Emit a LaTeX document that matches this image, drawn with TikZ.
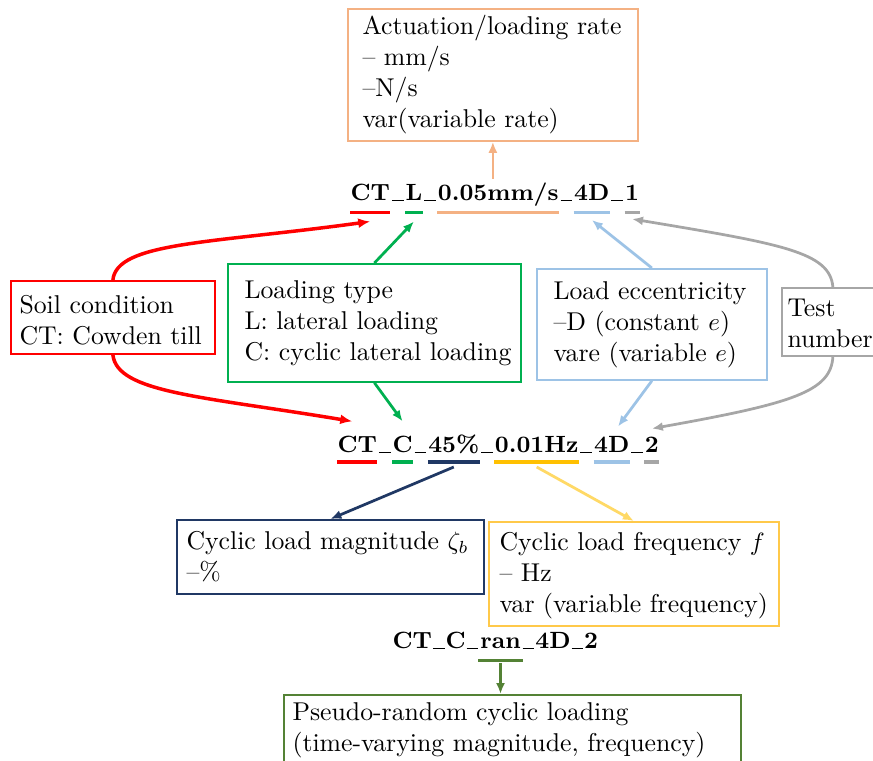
\documentclass[tikz,border=0pt]{standalone}
\usetikzlibrary{arrows.meta}
\definecolor{cRed}{HTML}{FF0000}
\definecolor{cGreen}{HTML}{00B050}
\definecolor{cOrange}{HTML}{F4B183}
\definecolor{cBlue}{HTML}{9DC3E6}
\definecolor{cGray}{HTML}{A6A6A6}
\definecolor{cNavy}{HTML}{203864}
\definecolor{cGold}{HTML}{FFC000}
\definecolor{cGoldBox}{HTML}{FFC94A}
\definecolor{cGoldArr}{HTML}{FFD966}
\definecolor{cDkGreen}{HTML}{548235}
% short low underscore, as in classic TeX text fonts
\newcommand{\lowbar}{\kern0.04em\rule[-0.35pt]{0.5em}{0.55pt}\kern0.04em}
\begin{document}
\begin{tikzpicture}[x=0.4pt,y=-0.4pt,
  font=\fontsize{10.3pt}{12.4pt}\selectfont,
  frame/.style={draw, rectangle, inner sep=0, line width=0.7pt, anchor=north west},
  txt/.style={align=left, inner sep=0, anchor=west},
  piece/.style={inner sep=0, anchor=base west, font=\fontsize{9.4pt}{12pt}\selectfont\bfseries},
  ul/.style={line width=1.5pt},
  arr/.style={line width=1.1pt, -{Latex[length=4.4pt,width=3.6pt]}},
  thickarr/.style={line width=1.4pt, -{Latex[length=4.8pt,width=4pt]}}]
\useasboundingbox (0,0) rectangle (873,760);
\clip (0,0) rectangle (873,760);

% ---- description boxes ----
\node[frame, draw=cOrange, minimum width=116pt, minimum height=52.8pt] (act) at (347,8) {};
\node[txt] (actT) at ([xshift=6pt]act.west) {Actuation/loading rate\\-- mm/s\\--N/s\\var(variable rate)};

\node[frame, draw=cRed, minimum width=81.6pt, minimum height=29.2pt] (soil) at (10,280) {};
\node[txt] (soilT) at ([xshift=3.6pt,yshift=-1pt]soil.west) {Soil condition\\CT: Cowden till};

\node[frame, draw=cGreen, minimum width=117.2pt, minimum height=47.2pt] (load) at (227,263) {};
\node[txt] (loadT) at ([xshift=6.8pt]load.west) {Loading type\\L: lateral loading\\C: cyclic lateral loading};

\node[frame, draw=cBlue, minimum width=92pt, minimum height=44.4pt] (ecc) at (536,268) {};
\node[txt] (eccT) at ([xshift=6.8pt]ecc.west) {Load eccentricity\\--D (constant $e$)\\vare (variable $e$)};

\node[frame, draw=cGray, minimum width=40.8pt, minimum height=27.2pt] (test) at (781,287) {};
\node[txt] (testT) at ([xshift=2.4pt,yshift=-0.8pt]test.west) {Test\\number};

\node[frame, draw=cNavy, minimum width=122.8pt, minimum height=29.6pt] (mag) at (176,519) {};
\node[txt] (magT) at ([xshift=4pt]mag.west) {Cyclic load magnitude $\zeta_b$\\--\%};

\node[frame, draw=cGoldBox, minimum width=116pt, minimum height=41.6pt] (freq) at (488,521) {};
\node[txt] (freqT) at ([xshift=4.4pt,yshift=-0.8pt]freq.west) {Cyclic load frequency $f$\\-- Hz\\var (variable frequency)};

\node[frame, draw=cDkGreen, minimum width=182.8pt, minimum height=28pt] (rand) at (283,694) {};
\node[txt] (randT) at ([xshift=3.6pt]rand.west) {Pseudo-random cyclic loading\\(time-varying magnitude, frequency)};

% ---- test code CT_L_0.05mm/s_4D_1 ----
\node[piece] (t1) at (350,200) {CT};
\node[piece] (t2) at (t1.base east) {\lowbar};
\node[piece] (t3) at (t2.base east) {L};
\node[piece] (t4) at (t3.base east) {\lowbar};
\node[piece] (t5) at (t4.base east) {0.05mm/s};
\node[piece] (t6) at (t5.base east) {\lowbar};
\node[piece] (t7) at (t6.base east) {4D};
\node[piece] (t8) at (t7.base east) {\lowbar};
\node[piece] (t9) at (t8.base east) {1};
\draw[ul, cRed]    ([yshift=-5pt]t1.base west) -- ([yshift=-5pt]t1.base east);
\draw[ul, cGreen]  ([yshift=-5pt]t3.base west) -- ([yshift=-5pt]t3.base east);
\draw[ul, cOrange] ([yshift=-5pt]t5.base west) -- ([yshift=-5pt]t5.base east);
\draw[ul, cBlue]   ([yshift=-5pt]t7.base west) -- ([yshift=-5pt]t7.base east);
\draw[ul, cGray]   ([yshift=-5pt]t9.base west) -- ([yshift=-5pt]t9.base east);
\coordinate (t1in) at ([yshift=-8.6pt]t1.base);
\coordinate (t3in) at ([yshift=-8.6pt]t3.base);
\coordinate (t7in) at ([yshift=-8pt]t7.base);
\coordinate (t9in) at ([yshift=-7.6pt]t9.base);

% ---- test code CT_C_45%_0.01Hz_4D_2 ----
\node[piece] (m1) at (337,452) {CT};
\node[piece] (m2) at (m1.base east) {\lowbar};
\node[piece] (m3) at (m2.base east) {C};
\node[piece] (m4) at (m3.base east) {\lowbar};
\node[piece] (m5) at (m4.base east) {45\%};
\node[piece] (m6) at (m5.base east) {\lowbar};
\node[piece] (m7) at (m6.base east) {0.01Hz};
\node[piece] (m8) at (m7.base east) {\lowbar};
\node[piece] (m9) at (m8.base east) {4D};
\node[piece] (m10) at (m9.base east) {\lowbar};
\node[piece] (m11) at (m10.base east) {2};
\draw[ul, cRed]   ([yshift=-4pt]m1.base west) -- ([yshift=-4pt]m1.base east);
\draw[ul, cGreen] ([yshift=-4pt]m3.base west) -- ([yshift=-4pt]m3.base east);
\draw[ul, cNavy]  ([yshift=-4pt]m5.base west) -- ([yshift=-4pt]m5.base east);
\draw[ul, cGold]  ([yshift=-4pt]m7.base west) -- ([yshift=-4pt]m7.base east);
\draw[ul, cBlue]  ([yshift=-4pt]m9.base west) -- ([yshift=-4pt]m9.base east);
\draw[ul, cGray]  ([yshift=-4pt]m11.base west) -- ([yshift=-4pt]m11.base east);
\coordinate (m1in) at ([xshift=-2pt,yshift=5.5pt]m1.north);
\coordinate (m3in) at ([yshift=5.5pt]m3.north);
\coordinate (m9in) at ([xshift=2.5pt,yshift=3.5pt]m9.north);
\coordinate (m11in) at ([yshift=3pt]m11.north);
\coordinate (m5out) at ([yshift=-6pt]m5.base);
\coordinate (m7out) at ([yshift=-6pt]m7.base);

% ---- test code CT_C_ran_4D_2 ----
\node[piece] (b1) at (392,648) {CT\lowbar C\lowbar};
\node[piece] (b2) at (b1.base east) {ran};
\node[piece] (b3) at (b2.base east) {\lowbar 4D\lowbar 2};
\draw[ul, cDkGreen] ([xshift=-0.6pt,yshift=-5pt]b2.base west) -- ([xshift=0.6pt,yshift=-5pt]b2.base east);
\coordinate (b2out) at ([yshift=-6pt]b2.base);

% ---- connectors ----
\draw[arr, cOrange] (act.south |- t5.north) ++(0,-3) -- (act.south);

\draw[thickarr, cRed] (soil.north) .. controls +(4,-38) and +(-160,22) .. (t1in);
\draw[thickarr, cRed] (soil.south) .. controls +(4,38) and +(-150,-25) .. (m1in);

\draw[arr, cGreen] (load.north) -- (t3in);
\draw[arr, cGreen] (load.south) -- (m3in);

\draw[arr, cBlue] (ecc.north) -- (t7in);
\draw[arr, cBlue] (ecc.south) -- (m9in);

\draw[arr, cGray] (test.north) .. controls +(-3,-35) and +(150,25) .. (t9in);
\draw[arr, cGray] (test.south) .. controls +(-2,35) and +(140,-25) .. (m11in);

\draw[arr, cNavy] (m5out) -- (mag.north);
\draw[arr, cGoldArr] (m7out) -- (freq.north);

\draw[arr, cDkGreen] (b2out) -- (b2out |- rand.north);
\end{tikzpicture}
\end{document}
